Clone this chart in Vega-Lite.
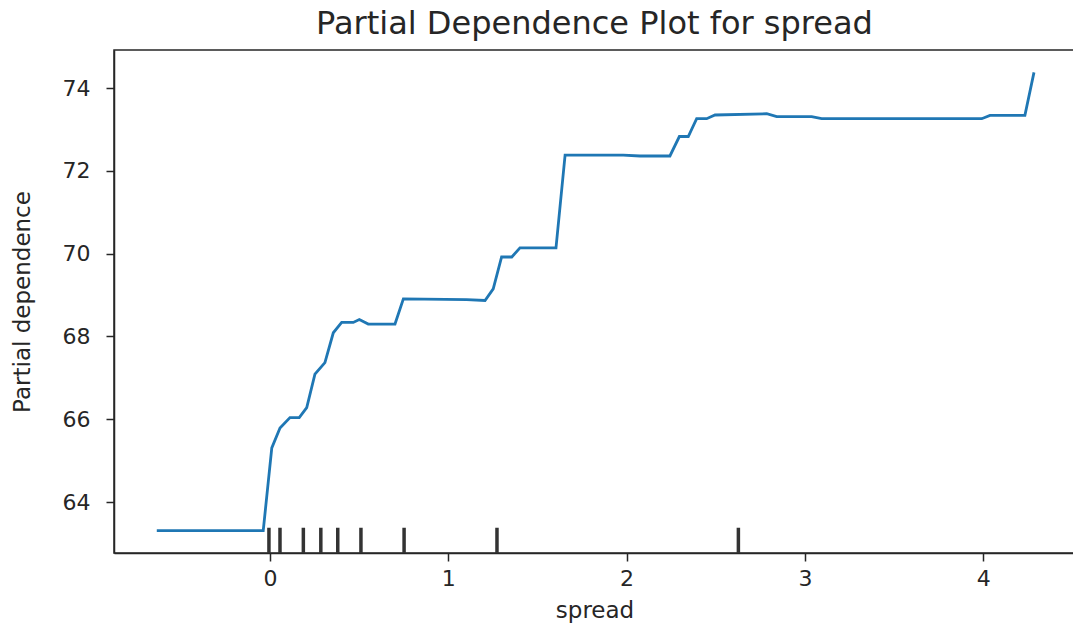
{
  "$schema": "https://vega.github.io/schema/vega-lite/v6.json",
  "width": 961,
  "height": 503,
  "autosize": "none",
  "padding": {"left": 114, "top": 50, "right": 0, "bottom": 72},
  "background": "white",
  "title": {"text": "Partial Dependence Plot for spread", "font": "DejaVu Sans", "fontSize": 32, "fontWeight": "normal", "color": "#262626", "offset": 9},
  "datasets": {
    "pd": [
      {"spread": -0.635, "pdep": 63.31},
      {"spread": -0.038, "pdep": 63.31},
      {"spread": 0.010, "pdep": 65.31},
      {"spread": 0.056, "pdep": 65.79},
      {"spread": 0.112, "pdep": 66.04},
      {"spread": 0.164, "pdep": 66.04},
      {"spread": 0.206, "pdep": 66.28},
      {"spread": 0.252, "pdep": 67.09},
      {"spread": 0.308, "pdep": 67.37},
      {"spread": 0.355, "pdep": 68.09},
      {"spread": 0.402, "pdep": 68.34},
      {"spread": 0.467, "pdep": 68.34},
      {"spread": 0.501, "pdep": 68.41},
      {"spread": 0.551, "pdep": 68.30},
      {"spread": 0.701, "pdep": 68.30},
      {"spread": 0.748, "pdep": 68.91},
      {"spread": 1.103, "pdep": 68.89},
      {"spread": 1.206, "pdep": 68.87},
      {"spread": 1.252, "pdep": 69.15},
      {"spread": 1.299, "pdep": 69.92},
      {"spread": 1.356, "pdep": 69.92},
      {"spread": 1.402, "pdep": 70.14},
      {"spread": 1.604, "pdep": 70.14},
      {"spread": 1.655, "pdep": 72.38},
      {"spread": 1.981, "pdep": 72.38},
      {"spread": 2.075, "pdep": 72.36},
      {"spread": 2.243, "pdep": 72.36},
      {"spread": 2.296, "pdep": 72.83},
      {"spread": 2.346, "pdep": 72.83},
      {"spread": 2.393, "pdep": 73.26},
      {"spread": 2.449, "pdep": 73.26},
      {"spread": 2.496, "pdep": 73.35},
      {"spread": 2.786, "pdep": 73.38},
      {"spread": 2.842, "pdep": 73.31},
      {"spread": 3.038, "pdep": 73.31},
      {"spread": 3.094, "pdep": 73.26},
      {"spread": 3.992, "pdep": 73.26},
      {"spread": 4.038, "pdep": 73.34},
      {"spread": 4.234, "pdep": 73.34},
      {"spread": 4.285, "pdep": 74.38}
    ],
    "deciles": [
      {"spread": -0.006},
      {"spread": 0.056},
      {"spread": 0.187},
      {"spread": 0.285},
      {"spread": 0.380},
      {"spread": 0.510},
      {"spread": 0.752},
      {"spread": 1.273},
      {"spread": 2.627}
    ]
  },
  "encoding": {
    "x": {
      "field": "spread", "type": "quantitative",
      "scale": {"domain": [-0.875, 4.515], "nice": false, "zero": false},
      "axis": {"title": "spread", "values": [0, 1, 2, 3, 4], "format": "d", "grid": false}
    }
  },
  "layer": [
    {
      "data": {"name": "deciles"},
      "mark": {"type": "rule", "color": "#333333", "strokeWidth": 3.5},
      "encoding": {
        "y": {"datum": 62.77, "type": "quantitative", "scale": {"domain": [62.77, 74.92], "nice": false, "zero": false}},
        "y2": {"datum": 63.38}
      }
    },
    {
      "data": {"name": "pd"},
      "mark": {"type": "line", "color": "#1f77b4", "strokeWidth": 2.8},
      "encoding": {
        "y": {
          "field": "pdep", "type": "quantitative",
          "scale": {"domain": [62.77, 74.92], "nice": false, "zero": false},
          "axis": {"title": "Partial dependence", "values": [64, 66, 68, 70, 72, 74], "grid": false}
        }
      }
    }
  ],
  "config": {
    "view": {"stroke": "#262626", "strokeWidth": 1.5},
    "axis": {
      "labelFont": "DejaVu Sans", "labelFontSize": 22, "labelColor": "#262626",
      "titleFont": "DejaVu Sans", "titleFontSize": 23, "titleFontWeight": "normal", "titleColor": "#262626",
      "domainColor": "#262626", "domainWidth": 1.5,
      "tickColor": "#262626", "tickWidth": 1.5, "tickSize": 8
    },
    "axisX": {"labelPadding": 7, "titlePadding": 10},
    "axisY": {"labelPadding": 16, "titlePadding": 28}
  }
}
